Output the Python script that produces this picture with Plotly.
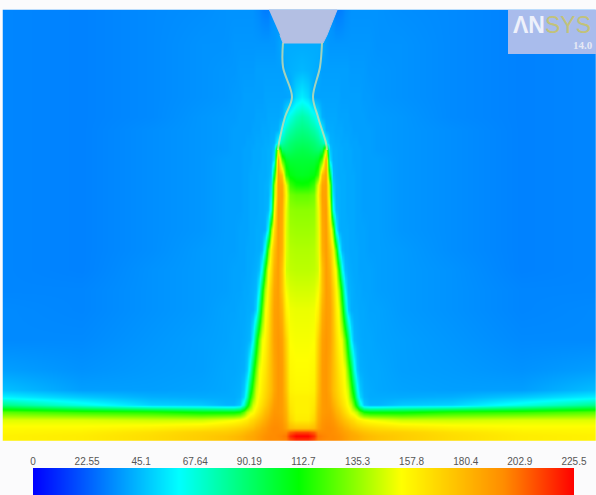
import plotly.graph_objects as go

tick_values = [0, 22.55, 45.1, 67.64, 90.19, 112.7, 135.3, 157.8, 180.4, 202.9, 225.5]
tick_labels = ["0", "22.55", "45.1", "67.64", "90.19", "112.7", "135.3", "157.8", "180.4", "202.9", "225.5"]
bar_values = [0, 22.55, 45.1, 61, 67.64, 90.19, 110, 112.7, 135.3, 153, 157.8, 180.4, 196, 202.9, 225.5]
color_stops = [[0, "#0000ff"], [0.27, "#00ffff"], [0.49, "#00ff00"], [0.68, "#ffff00"], [0.87, "#ff8c00"], [1, "#ff0000"]]

# Distance from jet axis (pixels in the picture) and the sampled rows
axis_x = 302
dist = [0, 6, 12, 16, 20, 24, 28, 31, 34, 37, 40, 43, 46, 49, 52, 55, 58, 62, 68, 76, 100, 150, 220, 299]
row_y = [10, 44, 70, 97, 117, 130, 143, 150, 160, 175, 185, 195, 210, 230, 250, 270, 290, 310, 340, 370, 390, 397, 405, 412, 420, 428, 432, 436, 440]

r010 = [36, 36, 36, 36, 36, 36, 36, 34, 30, 30, 31, 33, 34, 35, 35, 35, 35, 35, 35, 35, 34, 33, 31, 32]
r044 = [41, 41, 41, 41, 41, 38, 36, 36, 36, 36, 36, 36, 36, 36, 36, 36, 36, 36, 36, 35, 35, 33, 31, 32]
r070 = [44, 43, 42, 41, 38, 38, 38, 38, 38, 38, 38, 38, 38, 37, 37, 37, 37, 37, 36, 36, 35, 33, 31, 32]
r097 = [57, 52, 40, 39, 39, 39, 39, 39, 39, 39, 38, 38, 38, 38, 38, 38, 38, 37, 37, 36, 35, 33, 31, 32]
r117 = [78, 74, 66, 56, 42, 40, 40, 40, 40, 39, 39, 39, 39, 38, 38, 38, 38, 38, 37, 37, 36, 33, 31, 32]
r130 = [85, 83, 78, 72, 58, 42, 41, 41, 40, 40, 40, 39, 39, 39, 38, 38, 38, 38, 38, 37, 36, 34, 31, 32]
r143 = [92, 91, 88, 84, 78, 64, 43, 42, 41, 41, 40, 40, 40, 39, 39, 39, 38, 38, 38, 37, 36, 34, 31, 32]
r150 = [96, 95, 92, 90, 92, 150, 48, 42, 42, 41, 41, 40, 40, 40, 39, 39, 39, 38, 38, 37, 36, 34, 31, 32]
r160 = [100, 100, 100, 104, 125, 186, 55, 42, 42, 41, 41, 40, 40, 40, 39, 39, 39, 38, 38, 38, 36, 34, 31, 32]
r175 = [104, 105, 108, 120, 176, 188, 100, 45, 42, 41, 41, 41, 40, 40, 40, 39, 39, 38, 38, 38, 36, 34, 31, 32]
r185 = [112, 113, 120, 150, 186, 188, 130, 50, 43, 42, 41, 41, 40, 40, 40, 39, 39, 38, 38, 38, 36, 34, 31, 32]
r195 = [127, 127, 130, 155, 188, 188, 135, 55, 42, 42, 41, 41, 40, 40, 40, 39, 39, 38, 38, 38, 36, 34, 31, 32]
r210 = [134, 134, 135, 150, 186, 190, 150, 65, 44, 42, 41, 41, 40, 40, 40, 39, 39, 38, 38, 38, 36, 34, 31, 32]
r230 = [137, 137, 138, 148, 184, 190, 165, 130, 60, 42, 41, 41, 41, 40, 40, 39, 39, 39, 38, 38, 36, 34, 31, 32]
r250 = [140, 140, 141, 148, 182, 190, 176, 158, 122, 65, 44, 41, 41, 40, 40, 40, 39, 39, 38, 38, 37, 34, 31, 32]
r270 = [142, 142, 143, 146, 176, 190, 182, 164, 150, 112, 65, 45, 42, 41, 40, 40, 39, 39, 39, 38, 37, 35, 31, 32]
r290 = [146, 146, 147, 152, 176, 190, 186, 172, 156, 138, 102, 60, 44, 42, 41, 40, 40, 39, 39, 38, 37, 35, 32, 32]
r310 = [150, 150, 151, 158, 182, 190, 188, 176, 160, 150, 122, 82, 50, 42, 41, 41, 40, 40, 39, 39, 37, 35, 32, 33]
r340 = [152, 152, 153, 170, 188, 192, 188, 178, 166, 156, 150, 128, 98, 60, 44, 42, 41, 40, 40, 39, 38, 36, 33, 33]
r370 = [154, 154, 156, 174, 190, 192, 186, 178, 170, 162, 156, 150, 128, 102, 68, 48, 42, 41, 40, 40, 38, 37, 35, 38]
r390 = [156, 156, 158, 176, 190, 192, 186, 178, 172, 166, 160, 153, 145, 122, 98, 65, 48, 42, 41, 40, 39, 38, 38, 46]
r397 = [158, 158, 160, 178, 190, 192, 188, 180, 174, 168, 162, 156, 148, 130, 110, 75, 52, 43, 41, 41, 41, 42, 48, 58]
r405 = [158, 158, 162, 180, 190, 192, 190, 184, 178, 172, 166, 160, 152, 145, 125, 100, 70, 48, 43, 43, 48, 50, 66, 84]
r412 = [158, 158, 164, 182, 190, 192, 192, 188, 182, 178, 172, 166, 160, 152, 148, 140, 125, 112, 108, 108, 108, 115, 118, 125]
r420 = [160, 160, 168, 184, 192, 194, 194, 192, 188, 184, 180, 176, 172, 168, 165, 160, 158, 155, 152, 150, 145, 145, 148, 148]
r428 = [175, 175, 178, 188, 194, 196, 196, 195, 193, 190, 188, 184, 182, 178, 176, 174, 172, 170, 168, 166, 162, 158, 155, 155]
r432 = [210, 210, 205, 196, 196, 196, 196, 195, 194, 192, 190, 188, 186, 184, 182, 180, 178, 176, 174, 172, 170, 164, 158, 156]
r436 = [225, 225, 216, 200, 198, 197, 196, 196, 195, 194, 192, 190, 188, 186, 185, 184, 182, 180, 178, 176, 172, 166, 160, 158]
r440 = [215, 215, 208, 198, 197, 196, 196, 196, 195, 194, 192, 190, 188, 186, 185, 184, 182, 180, 178, 176, 172, 166, 160, 158]
half_rows = [r010, r044, r070, r097, r117, r130, r143, r150, r160, r175, r185, r195, r210, r230, r250,
             r270, r290, r310, r340, r370, r390, r397, r405, r412, r420, r428, r432, r436, r440]

# Nozzle and jet boundary
nozzle_x = [269, 337, 327, 323, 283, 280]
nozzle_y = [10, 10, 35, 43, 43, 35]
edge_left_x = [283, 283, 292, 285, 279, 278]
edge_left_y = [43, 67, 97, 117, 143, 150]
edge_right_x = [322, 320, 313, 318, 326, 327]
edge_right_y = [43, 67, 97, 117, 143, 150]

# Mirror the half profile about the jet axis; a doubled outer sample stops the heatmap spilling past its edge
xs = [axis_x - d for d in reversed(dist)] + [axis_x + d for d in dist[1:]]
z = [list(reversed(r)) + r[1:] for r in half_rows]
ys = [row_y[0]] + [row_y[0] + 0.5] + row_y[1:-1] + [row_y[-1] - 0.5] + [row_y[-1]]
z = [z[0]] + z + [z[-1]]
xs = [axis_x - dist[-1], axis_x - dist[-1] + 0.5] + xs[1:]
z = [[r[0]] + r for r in z]

fig = go.Figure()
fig.add_trace(go.Heatmap(x=xs, y=ys, z=z, zmin=0, zmax=225.5, colorscale=color_stops,
                         zsmooth="best", showscale=False, hoverinfo="skip"))
fig.add_trace(go.Scatter(x=nozzle_x, y=nozzle_y, mode="lines", fill="toself", fillcolor="#b3bfe3",
                         line=dict(color="#b3bfe3", width=1), showlegend=False, hoverinfo="skip"))
for ex, ey in [(edge_left_x, edge_left_y), (edge_right_x, edge_right_y)]:
    fig.add_trace(go.Scatter(x=ex, y=ey, mode="lines",
                             line=dict(color="rgba(205,220,170,0.8)", width=2, shape="spline"),
                             showlegend=False, hoverinfo="skip"))
fig.add_trace(go.Heatmap(x=bar_values, y=[0, 1], z=[bar_values, bar_values], zmin=0, zmax=225.5,
                         colorscale=color_stops, zsmooth="best", showscale=False, xaxis="x2", yaxis="y2",
                         hoverinfo="skip"))

fig.update_layout(
    width=596, height=495, margin=dict(l=0, r=0, t=0, b=0, autoexpand=False),
    paper_bgcolor="#fbfbfc", plot_bgcolor="rgba(0,0,0,0)", showlegend=False,
    xaxis=dict(domain=[0, 1], range=[0, 596], visible=False, fixedrange=True),
    yaxis=dict(domain=[0, 1], range=[495, 0], visible=False, fixedrange=True),
    xaxis2=dict(domain=[33 / 596, 574 / 596], range=[0, 225.5], anchor="y2", side="top",
                tickmode="array", tickvals=tick_values, ticktext=tick_labels, ticks="", showgrid=False,
                zeroline=False, showline=False, tickangle=0,
                tickfont=dict(family="Liberation Sans, Arial, sans-serif", size=10, color="#555555")),
    yaxis2=dict(domain=[0, 27 / 495], range=[0, 1], anchor="x2", visible=False, fixedrange=True),
    shapes=[dict(type="rect", xref="x", yref="y", x0=508, x1=596, y0=10, y1=54,
                 fillcolor="#a9bcec", line=dict(width=0))],
    annotations=[
        dict(x=511, y=25, xref="x", yref="y", xanchor="left", yanchor="middle", showarrow=False,
             text="<b>ΛN</b><span style='color:#c2c27a'>SYS</span>",
             font=dict(family="Liberation Sans, Arial, sans-serif", size=23, color="#eef1fb")),
        dict(x=571, y=45, xref="x", yref="y", xanchor="left", yanchor="middle", showarrow=False,
             text="<b>14.0</b>", font=dict(family="Liberation Serif, serif", size=11, color="#e6e9f5")),
    ],
)
fig.write_html("out.html", config={"displayModeBar": False},
               post_script="document.body.style.margin='0';document.documentElement.style.overflow='hidden';")
